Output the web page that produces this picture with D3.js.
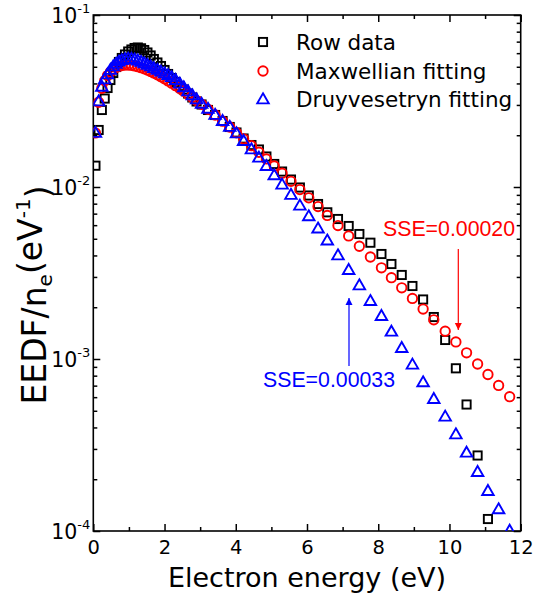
<!DOCTYPE html>
<html>
<head>
<meta charset="utf-8">
<script src="https://cdn.jsdelivr.net/npm/d3@7"></script>
<style>
  html, body { margin: 0; padding: 0; background: #fff; }
  svg { display: block; }
</style>
</head>
<body>
<svg id="chart" width="534" height="599"></svg>
<script>
// Electron energy grid (eV)
const energy = [0.06, 0.15, 0.24, 0.32, 0.40, 0.48, 0.56, 0.64, 0.72, 0.80, 0.89, 0.98,
  1.07, 1.16, 1.25, 1.34, 1.43, 1.52, 1.61, 1.70, 1.80, 1.90, 2.00, 2.10, 2.20,
  2.31, 2.43, 2.54, 2.66, 2.78, 2.90, 3.04, 3.22, 3.42, 3.63, 3.83, 4.02, 4.22, 4.44, 4.65, 4.86,
  5.08, 5.30, 5.55, 5.80, 6.05, 6.31, 6.57, 6.87, 7.17, 7.47, 7.78, 8.09, 8.37, 8.66, 8.96,
  9.26, 9.56, 9.88, 10.18, 10.48, 10.79, 11.08, 11.38, 11.69];

// Measured EEDF / n_e (eV^-1)
const rowData = [0.01330, 0.02145, 0.02804, 0.03268, 0.03764, 0.04188, 0.04600, 0.04984, 0.05330, 0.05623, 0.05892, 0.06134,
  0.06300, 0.06428, 0.06471, 0.06403, 0.06258, 0.06053, 0.05817, 0.05548, 0.05295, 0.05051, 0.04789, 0.04539, 0.04302,
  0.04078, 0.03866, 0.03689, 0.03497, 0.03315, 0.03142, 0.03018, 0.02804, 0.02622, 0.02419, 0.02233, 0.02074, 0.01914, 0.01754, 0.01652, 0.01504,
  0.01361, 0.01230, 0.01105, 0.009934, 0.008925, 0.007963, 0.007127, 0.006516, 0.005933, 0.005329, 0.004744, 0.004078, 0.003567, 0.003080, 0.002657,
  0.002218, 0.001754, 0.001290, 0.0008828, 0.0005438, 0.0002748, 0.0001174];

// Maxwellian fit
const maxwellFit = [0.02063, 0.03110, 0.03749, 0.04148, 0.04445, 0.04667, 0.04831, 0.04950, 0.05033, 0.05084, 0.05113, 0.05115,
  0.05096, 0.05059, 0.05008, 0.04943, 0.04868, 0.04785, 0.04695, 0.04599, 0.04488, 0.04374, 0.04256, 0.04135, 0.04014,
  0.03881, 0.03735, 0.03602, 0.03459, 0.03318, 0.03180, 0.03023, 0.02828, 0.02621, 0.02415, 0.02232, 0.02067, 0.01905, 0.01739, 0.01592, 0.01456,
  0.01325, 0.01204, 0.01079, 0.009663, 0.008646, 0.007691, 0.006838, 0.005963, 0.005197, 0.004524, 0.003917, 0.003389, 0.002972, 0.002593, 0.002249,
  0.001950, 0.001690, 0.001450, 0.001256, 0.001086, 0.0009352, 0.0008128, 0.0007024, 0.0006039];

// Druyvesteyn fit
const druyvFit = [0.02046, 0.03120, 0.03790, 0.04188, 0.04479, 0.04756, 0.04984, 0.05154, 0.05309, 0.05416, 0.05489, 0.05526,
  0.05512, 0.05460, 0.05388, 0.05294, 0.05189, 0.05086, 0.04984, 0.04865, 0.04756, 0.04643, 0.04539, 0.04437, 0.04313,
  0.04150, 0.03955, 0.03764, 0.03567, 0.03381, 0.03204, 0.03018, 0.02823, 0.02604, 0.02397, 0.02218, 0.02033, 0.01834, 0.01641, 0.01468, 0.01312,
  0.01159, 0.01023, 0.008925, 0.007723, 0.006694, 0.005684, 0.004839, 0.003970, 0.003262, 0.002657, 0.002153, 0.001762, 0.001429, 0.001148, 0.0009192,
  0.0007254, 0.0005800, 0.0004581, 0.0003615, 0.0002829, 0.0002183, 0.0001693, 0.0001325, 0.0000995];

const seriesNames = ["Row data", "Maxwellian fitting", "Druyvesetryn fitting"];
const xMajorTicks = [0, 2, 4, 6, 8, 10, 12];
const xMinorTicks = [1, 3, 5, 7, 9, 11];
const yDecades = [1e-4, 1e-3, 1e-2, 1e-1];
const yExponents = ["-4", "-3", "-2", "-1"];

// Fit quality annotations
const sseMaxwell = "SSE=0.00020";
const sseDruyv = "SSE=0.00033";

const svg = d3.select("#chart");
const L = 93.3, R = 520.7, T = 15, B = 531;

const x = d3.scaleLinear().domain([0, 12]).range([L, R]);
const y = d3.scaleLog().domain([1e-4, 1e-1]).range([B, T]);

const yMinor = [];
for (let d = -4; d < -1; d++) for (let m = 2; m <= 9; m++) yMinor.push(m * Math.pow(10, d));

const tickFont = "DejaVu Sans, Verdana, sans-serif";

function styleAxis(g) {
  g.select(".domain").remove();
  g.selectAll(".tick line").attr("stroke", "#000").attr("stroke-width", 1.5);
}

// bottom axis
svg.append("g").attr("transform", `translate(0,${B})`)
  .call(d3.axisBottom(x).tickValues(xMajorTicks).tickSize(-7).tickPadding(9).tickSizeOuter(0))
  .call(styleAxis)
  .call(g => g.selectAll(".tick text").attr("font-family", tickFont).attr("font-size", 19.5).attr("fill", "#000"));
svg.append("g").attr("transform", `translate(0,${B})`)
  .call(d3.axisBottom(x).tickValues(xMinorTicks).tickSize(-4).tickFormat("").tickSizeOuter(0))
  .call(styleAxis);
// top axis
svg.append("g").attr("transform", `translate(0,${T})`)
  .call(d3.axisTop(x).tickValues(xMajorTicks).tickSize(-7).tickFormat("").tickSizeOuter(0))
  .call(styleAxis);
svg.append("g").attr("transform", `translate(0,${T})`)
  .call(d3.axisTop(x).tickValues(xMinorTicks).tickSize(-4).tickFormat("").tickSizeOuter(0))
  .call(styleAxis);
// left axis
svg.append("g").attr("transform", `translate(${L},0)`)
  .call(d3.axisLeft(y).tickValues(yDecades).tickSize(-7).tickPadding(3).tickSizeOuter(0))
  .call(styleAxis)
  .call(g => g.selectAll(".tick text").each(function (d) {
    const t = d3.select(this).text(null)
      .attr("font-family", tickFont).attr("font-size", 20.5).attr("fill", "#000").attr("dy", "0.36em");
    t.append("tspan").text("10");
    t.append("tspan").attr("font-size", 13).attr("dy", "-0.75em").text(yExponents[yDecades.indexOf(d)]);
  }));
svg.append("g").attr("transform", `translate(${L},0)`)
  .call(d3.axisLeft(y).tickValues(yMinor).tickSize(-4).tickFormat("").tickSizeOuter(0))
  .call(styleAxis);
// right axis
svg.append("g").attr("transform", `translate(${R},0)`)
  .call(d3.axisRight(y).tickValues(yDecades).tickSize(-7).tickFormat("").tickSizeOuter(0))
  .call(styleAxis);
svg.append("g").attr("transform", `translate(${R},0)`)
  .call(d3.axisRight(y).tickValues(yMinor).tickSize(-4).tickFormat("").tickSizeOuter(0))
  .call(styleAxis);

// frame
svg.append("rect").attr("x", L).attr("y", T).attr("width", R - L).attr("height", B - T)
  .attr("fill", "none").attr("stroke", "#000").attr("stroke-width", 1.6);

// markers, clipped to the plot box
svg.append("defs").append("clipPath").attr("id", "plotClip")
  .append("rect").attr("x", L).attr("y", T).attr("width", R - L).attr("height", B - T);

const plot = svg.append("g").attr("clip-path", "url(#plotClip)");

const sq = 8.2, rc = 4.7, tw = 11.5, th = 10;
function drawSquare(g, cx, cy) {
  g.append("rect").attr("x", cx - sq / 2).attr("y", cy - sq / 2).attr("width", sq).attr("height", sq)
    .attr("fill", "none").attr("stroke", "#000").attr("stroke-width", 1.9);
}
function drawCircle(g, cx, cy) {
  g.append("circle").attr("cx", cx).attr("cy", cy).attr("r", rc)
    .attr("fill", "none").attr("stroke", "#ff0000").attr("stroke-width", 1.9);
}
function drawTriangle(g, cx, cy) {
  const top = cy - th * 2 / 3, bot = cy + th / 3;
  g.append("path").attr("d", `M${cx},${top}L${cx + tw / 2},${bot}L${cx - tw / 2},${bot}Z`)
    .attr("fill", "none").attr("stroke", "#0000ff").attr("stroke-width", 1.9).attr("stroke-linejoin", "miter");
}

rowData.forEach((v, i) => drawSquare(plot, x(energy[i]), y(v)));
maxwellFit.forEach((v, i) => drawCircle(plot, x(energy[i]), y(v)));
druyvFit.forEach((v, i) => drawTriangle(plot, x(energy[i]), y(v)));

// legend
const legend = svg.append("g");
const lgY = [42, 71, 99];
drawSquare(legend, 263, lgY[0]);
drawCircle(legend, 263, lgY[1]);
drawTriangle(legend, 263, lgY[2] + 1);
seriesNames.forEach((name, i) => {
  legend.append("text").attr("x", 296).attr("y", lgY[i] + 7.5)
    .attr("font-family", tickFont).attr("font-size", 21.5).attr("fill", "#000").text(name);
});

// SSE annotations with arrows
const defs = svg.select("defs");
function arrowHead(id, color) {
  defs.append("marker").attr("id", id).attr("viewBox", "0 0 10 10").attr("refX", 10).attr("refY", 5)
    .attr("markerWidth", 7).attr("markerHeight", 9).attr("markerUnits", "userSpaceOnUse").attr("orient", "auto")
    .append("path").attr("d", "M0,0L10,5L0,10Z").attr("fill", color);
}
arrowHead("arRed", "#ff0000");
arrowHead("arBlue", "#0000ff");

svg.append("text").attr("x", 383).attr("y", 236).attr("font-family", "Liberation Sans, Arial, sans-serif")
  .attr("font-size", 21.3).attr("fill", "#ff0000").text(sseMaxwell);
svg.append("line").attr("x1", 458.3).attr("y1", 249).attr("x2", 458.3).attr("y2", 330)
  .attr("stroke", "#ff0000").attr("stroke-width", 1.2).attr("marker-end", "url(#arRed)");

svg.append("text").attr("x", 263).attr("y", 387).attr("font-family", "Liberation Sans, Arial, sans-serif")
  .attr("font-size", 21.3).attr("fill", "#0000ff").text(sseDruyv);
svg.append("line").attr("x1", 349).attr("y1", 366).attr("x2", 349).attr("y2", 298)
  .attr("stroke", "#0000ff").attr("stroke-width", 1.2).attr("marker-end", "url(#arBlue)");

// axis titles
svg.append("text").attr("x", (L + R) / 2).attr("y", 587).attr("text-anchor", "middle")
  .attr("font-family", tickFont).attr("font-size", 27).attr("fill", "#000").text("Electron energy (eV)");

const yt = svg.append("text").attr("transform", `translate(46,295) rotate(-90)`)
  .attr("text-anchor", "middle").attr("font-family", tickFont).attr("font-size", 33).attr("fill", "#000");
yt.append("tspan").text("EEDF/n");
yt.append("tspan").attr("font-size", 20).attr("dy", "0.3em").text("e");
yt.append("tspan").attr("dy", "-0.3em").text("(eV");
yt.append("tspan").attr("font-size", 20).attr("dy", "-0.6em").text("-1");
yt.append("tspan").attr("dy", "0.6em").text(")");
</script>
</body>
</html>
